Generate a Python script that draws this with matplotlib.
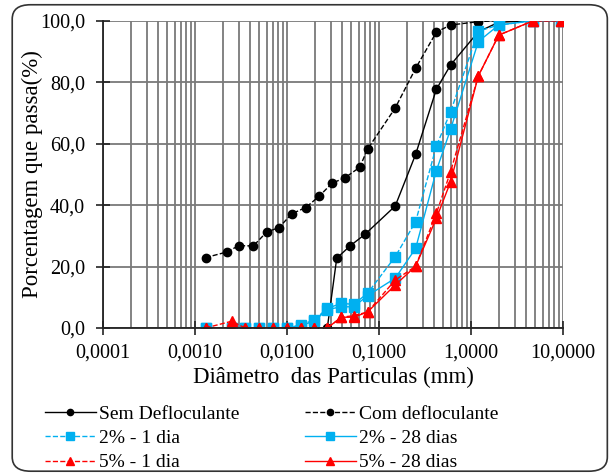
import matplotlib
matplotlib.use("Agg")
import matplotlib.pyplot as plt
from matplotlib.patches import FancyBboxPatch
from matplotlib.ticker import FixedLocator, FuncFormatter, LogLocator, NullFormatter

plt.rcParams['font.family'] = ['Liberation Serif', 'DejaVu Serif']

# --- dados ---
# Sem defloculante
d_sem = [0.0013, 0.0025, 0.0035, 0.0050, 0.0070, 0.0101, 0.0141, 0.0197, 0.0274,
         0.0347, 0.0484, 0.0705, 0.15, 0.25, 0.42, 0.6, 1.2, 2.0, 4.75, 9.5]
p_sem = [0, 0, 0, 0, 0, 0, 0, 0, 0,
         22.7, 26.7, 30.5, 39.7, 56.5, 77.7, 85.6, 96.4, 99.5, 100, 100]

# Com defloculante
d_com = [0.0013, 0.0022, 0.0030, 0.0043, 0.0060, 0.0082, 0.0113, 0.0160, 0.0224,
         0.0308, 0.0427, 0.0617, 0.075, 0.15, 0.25, 0.42, 0.6, 1.2, 2.0, 4.75, 9.5]
p_com = [22.9, 24.7, 26.8, 26.7, 31.2, 32.7, 37.2, 39.2, 42.9,
         47.1, 48.9, 52.3, 58.2, 71.6, 84.5, 96.3, 98.6, 99.7, 100, 100, 100]

# solo-cal
d_cal = [0.0013, 0.0025, 0.0035, 0.0050, 0.0070, 0.0101, 0.0141, 0.0197, 0.0274,
         0.039, 0.053, 0.075, 0.15, 0.25, 0.42, 0.6, 1.2, 2.0, 4.75, 9.5]
p_2_1 = [0, 0, 0, 0, 0, 0, 1.0, 2.6, 6.4,
         8.0, 7.7, 11.3, 23.2, 34.6, 59.2, 70.4, 96.6, 98.6, 100, 100]
p_2_28 = [0, 0, 0, 0, 0, 0, 0.8, 2.2, 6.0,
          6.9, 6.9, 10.5, 16.2, 25.9, 51.2, 64.7, 93.2, 98.6, 100, 100]
p_5_1 = [0, 2.2, 0, 0, 0, 0, 0, 0, 0,
         3.5, 4.0, 5.2, 15.6, 20.1, 37.3, 50.9, 82.0, 95.3, 100, 100]
p_5_28 = [0, 0, 0, 0, 0, 0, 0, 0, 0,
          3.5, 3.5, 5.2, 14.0, 20.1, 35.7, 47.6, 82.0, 95.3, 100, 100]

azul = '#00B0F0'
vermelho = '#FF0000'

fig = plt.figure(figsize=(6.11, 4.75), dpi=100)
ax = fig.add_axes([0.1686, 0.3095, 0.7529, 0.6469])

l1, = ax.plot(d_sem, p_sem, '-', color='black', marker='o', ms=6, lw=1.0, label='Sem Defloculante')
l2, = ax.plot(d_com, p_com, '--', color='black', marker='o', ms=6, lw=1.0, label='Com defloculante')
l3, = ax.plot(d_cal, p_2_1, '--', color=azul, marker='s', ms=7, lw=1.0, label='2% - 1 dia')
l4, = ax.plot(d_cal, p_2_28, '-', color=azul, marker='s', ms=7, lw=1.0, label='2% - 28 dias')
l5, = ax.plot(d_cal, p_5_1, '--', color=vermelho, marker='^', ms=7, lw=1.0, label='5% - 1 dia')
l6, = ax.plot(d_cal, p_5_28, '-', color=vermelho, marker='^', ms=7, lw=1.0, label='5% - 28 dias')

# --- eixos ---
ax.set_xscale('log')
ax.set_xlim(0.0001, 10)
ax.set_ylim(0, 100)
ax.xaxis.set_major_locator(FixedLocator([0.0001, 0.001, 0.01, 0.1, 1, 10]))
ax.xaxis.set_minor_locator(LogLocator(base=10, subs=range(2, 10)))
ax.xaxis.set_minor_formatter(NullFormatter())
ax.xaxis.set_major_formatter(FuncFormatter(lambda v, p: f"{v:.4f}".replace('.', ',')))
ax.set_yticks([0, 20, 40, 60, 80, 100])
ax.yaxis.set_major_formatter(FuncFormatter(lambda v, p: f"{v:.1f}".replace('.', ',')))

ax.grid(axis='x', which='both', color='#7a7a7a', lw=1.3)
ax.grid(axis='y', which='major', color='#7a7a7a', lw=1.3)
ax.set_axisbelow(True)

for s in ['top', 'right']:
    ax.spines[s].set_visible(False)
for s in ['left', 'bottom']:
    ax.spines[s].set_linewidth(1.3)
    ax.spines[s].set_color('#222222')

ax.tick_params(axis='both', which='major', direction='inout', length=10, width=1.2,
               labelsize=14.5, colors='#222222', labelcolor='black')
ax.tick_params(axis='x', which='minor', length=0)
ax.tick_params(axis='x', which='major', pad=6)
ax.tick_params(axis='y', which='major', pad=8)

ax.set_xlabel('Diâmetro  das Particulas (mm)', fontsize=16.5, labelpad=3)
ax.set_ylabel('Porcentagem que passa(%)', fontsize=16.5, labelpad=-2)

# --- legenda ---
leg = fig.legend(handles=[l1, l3, l5, l2, l4, l6], loc='upper left',
                 bbox_to_anchor=(0.074, 0.146), ncol=2, frameon=False,
                 fontsize=14, handlelength=2.6, handletextpad=0.15,
                 columnspacing=3.4, labelspacing=0.33, borderaxespad=0,
                 borderpad=0, markerscale=0.75)

# borda arredondada
borda = FancyBboxPatch((0.02, 0.008), 0.974, 0.982, boxstyle='round,pad=0,rounding_size=0.03',
                       transform=fig.transFigure, fill=False, edgecolor='#333333', lw=1.2)
fig.patches.append(borda)

fig.savefig('out.png', dpi=100)
